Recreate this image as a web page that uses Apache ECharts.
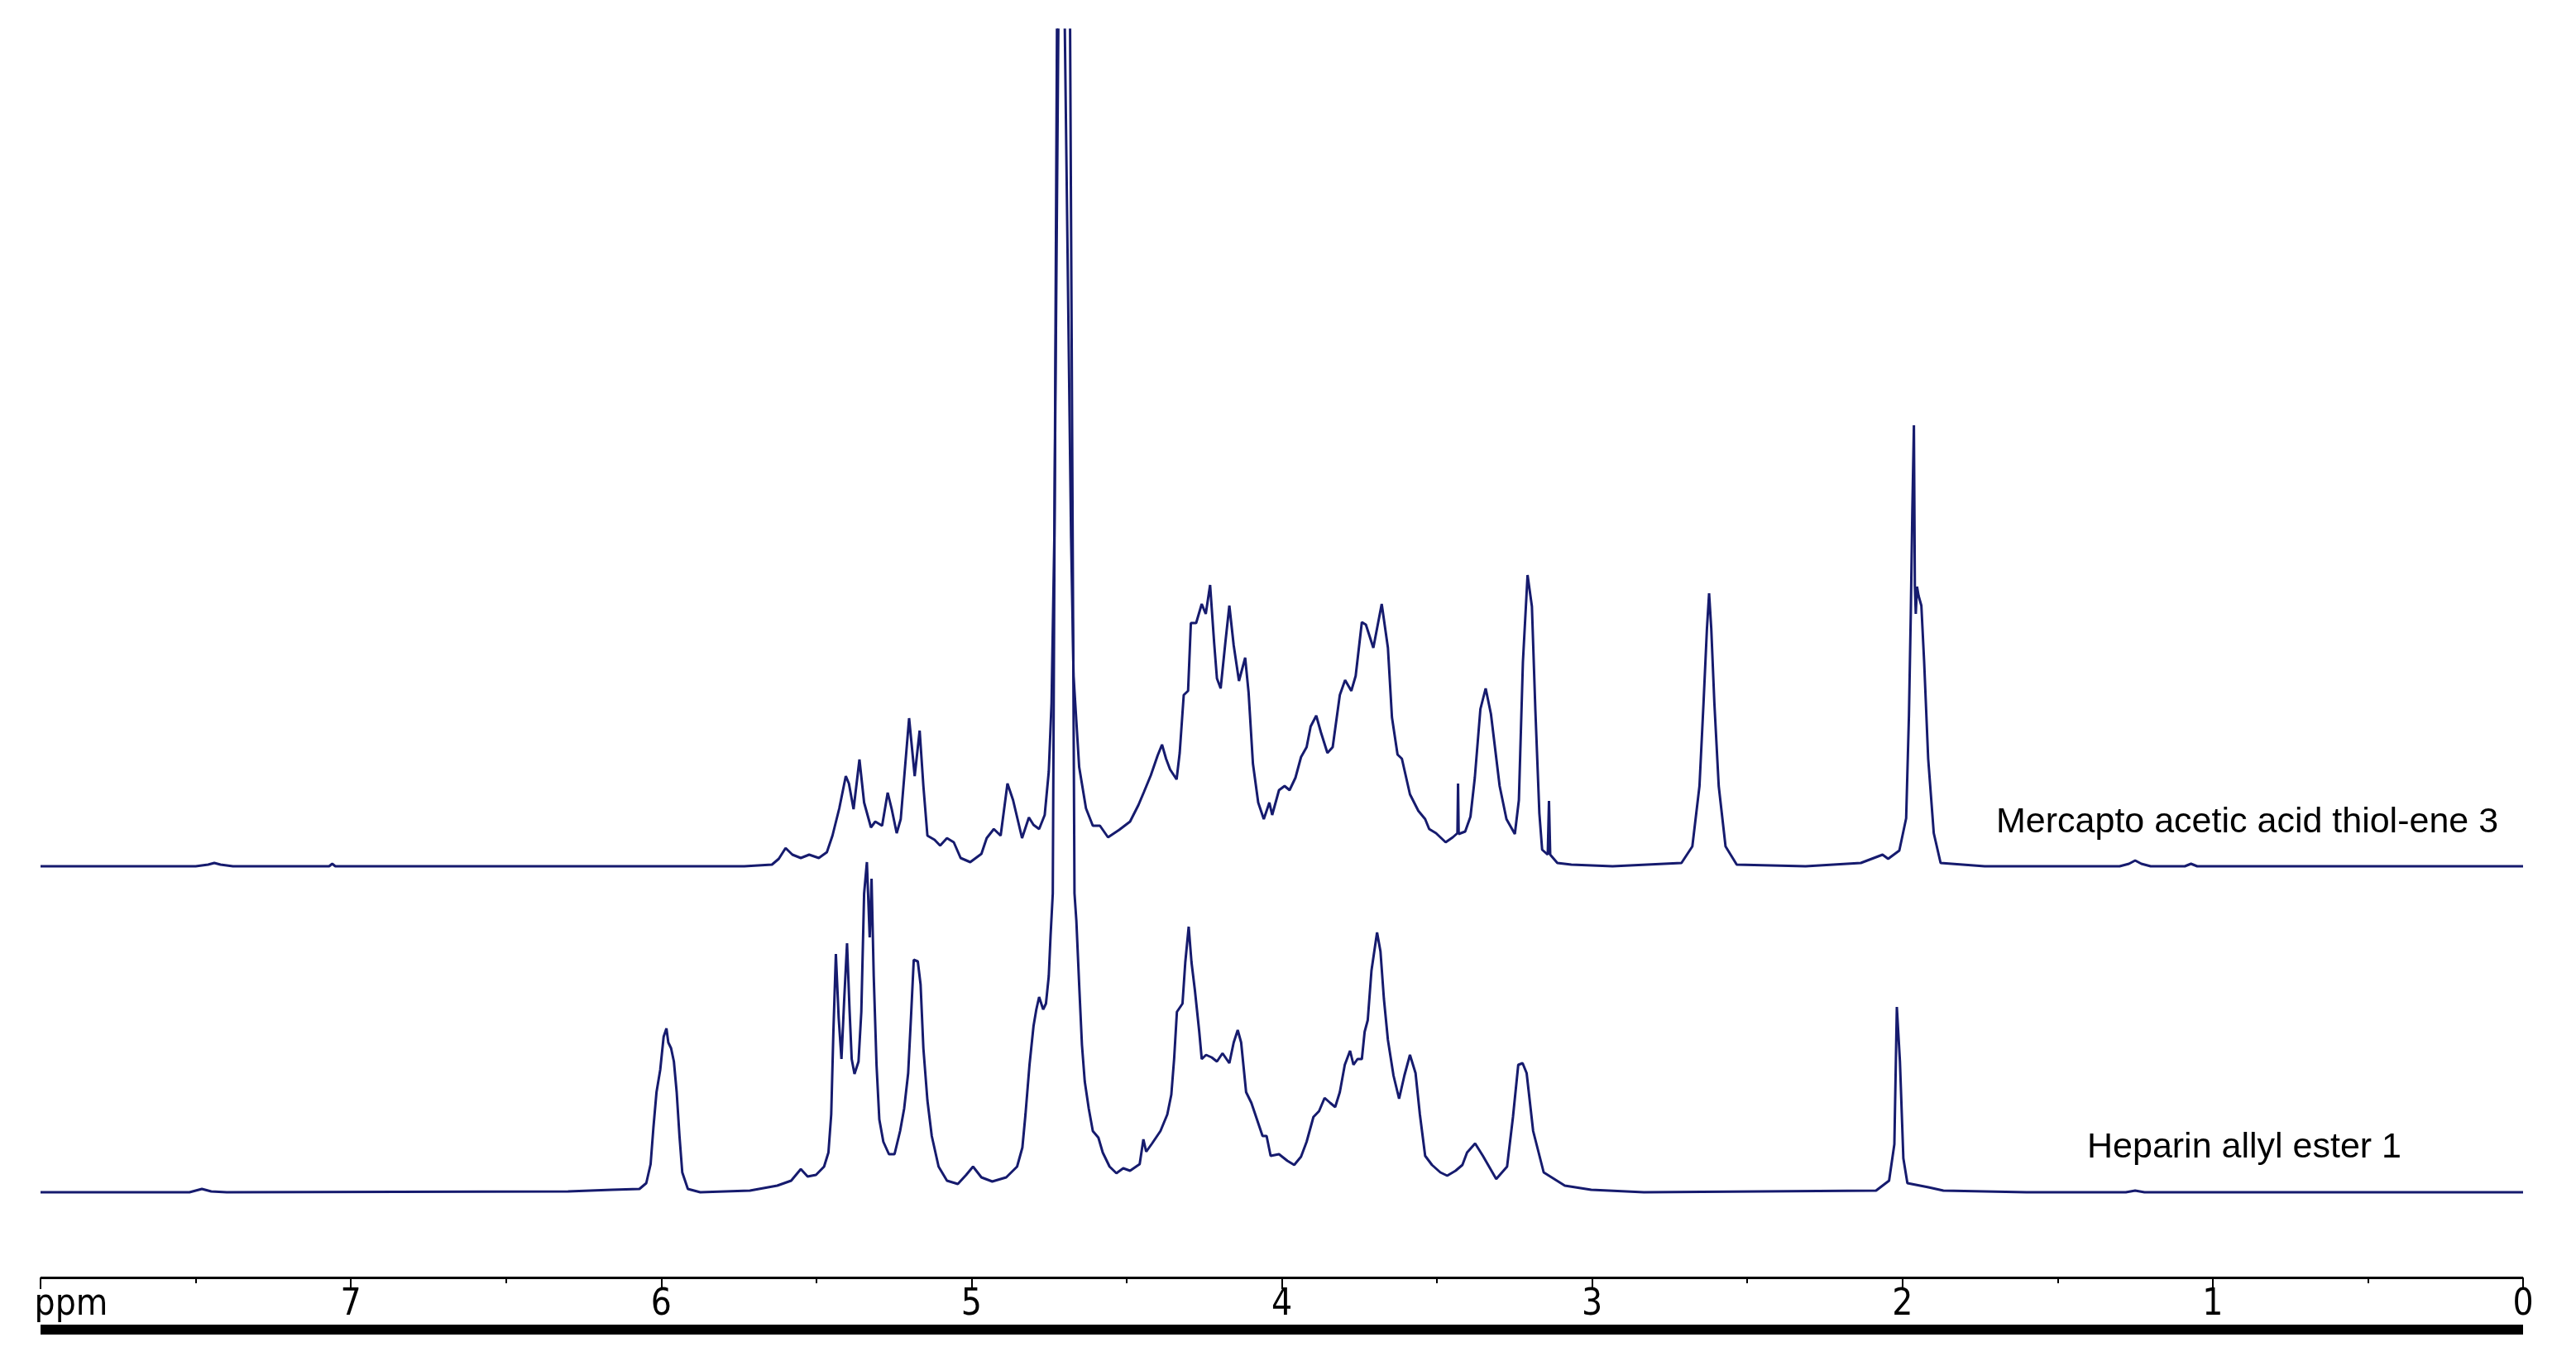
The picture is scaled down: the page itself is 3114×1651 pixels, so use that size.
<!DOCTYPE html>
<html>
<head>
<meta charset="utf-8">
<script src="https://cdn.jsdelivr.net/npm/echarts@6/dist/echarts.min.js"></script>
<style>
html,body{margin:0;padding:0;background:#fff;}
#c{width:3114px;height:1651px;}
</style>
</head>
<body>
<div id="c"></div>
<script>
// ---- DATA (chemical shift in ppm, intensity in arbitrary units) ----
var upperName = 'Mercapto acetic acid thiol-ene 3';
var lowerName = 'Heparin allyl ester 1';

var upperPpm = [8.00,7.50,7.46,7.44,7.42,7.38,7.07,7.06,7.05,5.732,5.643,5.621,5.599,5.577,5.550,5.523,5.492,5.466,5.448,5.426,5.405,5.395,5.380,5.361,5.346,5.324,5.310,5.288,5.270,5.257,5.241,5.228,5.201,5.183,5.167,5.155,5.142,5.119,5.101,5.079,5.057,5.035,5.004,4.968,4.951,4.928,4.906,4.884,4.866,4.837,4.815,4.800,4.782,4.764,4.751,4.742,4.733,4.712,4.679,4.671,4.653,4.631,4.609,4.586,4.560,4.524,4.489,4.462,4.444,4.422,4.400,4.386,4.373,4.360,4.339,4.329,4.316,4.302,4.293,4.276,4.258,4.245,4.231,4.218,4.209,4.197,4.182,4.169,4.155,4.138,4.118,4.107,4.093,4.076,4.058,4.040,4.031,4.009,3.991,3.975,3.956,3.938,3.920,3.907,3.889,3.874,3.853,3.836,3.813,3.796,3.776,3.762,3.742,3.729,3.705,3.678,3.658,3.645,3.627,3.613,3.587,3.560,3.538,3.525,3.503,3.472,3.449,3.434,3.432,3.430,3.409,3.392,3.378,3.360,3.343,3.326,3.298,3.276,3.249,3.236,3.223,3.208,3.194,3.183,3.170,3.161,3.143,3.139,3.135,3.112,3.067,2.934,2.712,2.677,2.654,2.641,2.630,2.623,2.616,2.606,2.592,2.570,2.534,2.312,2.134,2.064,2.046,2.010,1.988,1.979,1.973,1.968,1.963,1.960,1.957,1.953,1.948,1.939,1.930,1.917,1.899,1.877,1.735,1.30,1.27,1.25,1.23,1.20,1.09,1.07,1.05,0.00];
var upperInt = [0,0,2,4,2,0,0,3,0,0,2,9,22,14,10,14,10,17,37,70,109,100,69,129,77,47,54,49,89,69,40,57,179,109,164,97,37,32,25,34,29,10,5,15,34,45,37,100,80,34,59,50,45,62,114,197,397,1400,397,230,120,70,49,49,35,44,54,74,90,110,134,147,130,117,105,137,207,212,294,294,317,305,340,270,227,215,270,315,267,224,252,210,124,77,57,77,62,92,97,92,107,132,144,169,182,162,137,144,207,225,212,230,295,292,264,317,264,180,135,130,87,67,57,45,40,29,35,40,100,39,42,60,107,190,215,184,97,57,39,80,247,352,314,190,64,20,14,79,14,4,2,0,4,24,97,197,287,330,287,197,97,24,2,0,4,14,9,19,58,182,306,431,533,340,305,338,327,315,247,130,40,4,0,0,3,7,3,0,0,3,0,0];

var lowerPpm = [8.00,7.52,7.48,7.45,7.40,6.30,6.158,6.070,6.048,6.034,6.025,6.015,6.003,5.992,5.983,5.977,5.968,5.959,5.950,5.941,5.932,5.914,5.874,5.714,5.626,5.581,5.550,5.528,5.501,5.475,5.461,5.452,5.445,5.437,5.428,5.419,5.410,5.401,5.393,5.386,5.377,5.364,5.355,5.346,5.337,5.328,5.322,5.315,5.306,5.297,5.284,5.266,5.248,5.230,5.217,5.204,5.195,5.186,5.173,5.164,5.155,5.142,5.128,5.106,5.079,5.044,5.017,4.995,4.968,4.933,4.888,4.853,4.836,4.826,4.813,4.800,4.791,4.782,4.769,4.760,4.751,4.745,4.738,4.704,4.668,4.662,4.653,4.644,4.635,4.622,4.609,4.591,4.577,4.555,4.533,4.511,4.489,4.458,4.446,4.437,4.418,4.391,4.369,4.356,4.347,4.338,4.320,4.311,4.300,4.291,4.280,4.266,4.258,4.244,4.226,4.209,4.191,4.169,4.155,4.142,4.131,4.115,4.098,4.080,4.062,4.049,4.036,4.009,3.982,3.960,3.938,3.920,3.898,3.880,3.862,3.844,3.828,3.813,3.797,3.780,3.769,3.756,3.742,3.733,3.723,3.711,3.693,3.682,3.671,3.658,3.640,3.622,3.605,3.587,3.569,3.555,3.538,3.516,3.489,3.467,3.440,3.418,3.403,3.377,3.352,3.309,3.274,3.255,3.238,3.224,3.211,3.190,3.156,3.088,3.003,2.833,2.085,2.043,2.026,2.018,2.013,2.008,1.997,1.984,1.916,1.868,1.60,1.28,1.25,1.22,0.00];
var lowerInt = [0,0,4,1,0,1,3,4,11,34,78,121,148,188,198,181,174,158,121,68,24,4,0,2,8,14,28,19,21,31,48,94,194,288,211,161,234,301,221,161,143,158,218,361,399,308,379,261,154,88,61,46,46,74,101,144,211,281,279,251,174,111,68,31,14,10,21,31,18,13,18,31,54,94,154,201,221,236,221,228,261,311,361,3000,361,328,251,178,134,101,74,66,48,31,23,29,26,34,64,49,59,74,94,118,161,218,228,278,321,278,244,194,161,166,163,158,168,156,181,196,181,121,108,88,68,68,44,46,38,33,43,61,91,98,114,108,103,121,154,171,154,161,161,194,208,268,314,291,234,184,141,113,141,166,144,94,44,33,24,20,26,33,48,59,44,16,31,91,154,156,144,74,24,8,3,0,2,14,58,224,226,158,41,11,6,2,0,0,2,0,0];

var axisMin = 0, axisMax = 8, axisStep = 1;
var axisUnitLabel = 'ppm';

function zip(a, b) { var out = []; for (var i = 0; i < a.length; i++) out.push([a[i], b[i]]); return out; }

var AXFONT = "'DejaVu Sans Condensed', 'Liberation Sans', sans-serif";
var LBFONT = "'Liberation Sans', Arial, sans-serif";
var LINE = '#161b6e';

var chart = echarts.init(document.getElementById('c'), null, {renderer: 'canvas'});
chart.setOption({
  animation: false,
  backgroundColor: '#fff',
  title: [
    {text: upperName, left: 2408, top: 968, textStyle: {fontFamily: LBFONT, fontSize: 43, fontWeight: 'normal', color: '#000'}},
    {text: lowerName, left: 2518, top: 1361, textStyle: {fontFamily: LBFONT, fontSize: 43, fontWeight: 'normal', color: '#000'}}
  ],
  grid: [
    {left: 49, right: 64, top: 36, bottom: 107},
    {left: 49, right: 64, top: 36, bottom: 107}
  ],
  xAxis: [
    {
      type: 'value', gridIndex: 0, min: axisMin, max: axisMax, interval: axisStep, inverse: true,
      axisLine: {show: true, onZero: false, lineStyle: {color: '#000', width: 3, cap: 'butt'}},
      axisTick: {show: true, length: 14, lineStyle: {color: '#000', width: 2}},
      minorTick: {show: true, splitNumber: 2, length: 7, lineStyle: {color: '#000', width: 2}},
      splitLine: {show: false},
      axisLabel: {
        show: true, margin: 12, color: '#000', fontFamily: AXFONT, fontSize: 44,
        showMinLabel: true, showMaxLabel: true,
        formatter: function (v) { return v === axisMax ? '{p|' + axisUnitLabel + '}' : String(v); },
        rich: {p: {fontFamily: AXFONT, fontSize: 44, color: '#000', padding: [0, 0, 0, 74]}}
      }
    },
    {
      type: 'value', gridIndex: 0, min: axisMin, max: axisMax, inverse: true, position: 'bottom', offset: 63,
      axisLine: {show: true, onZero: false, lineStyle: {color: '#000', width: 12, cap: 'butt'}},
      axisTick: {show: false}, axisLabel: {show: false}, splitLine: {show: false}
    },
    {
      type: 'value', gridIndex: 1, min: axisMin, max: axisMax, inverse: true, show: false,
      splitLine: {show: false}
    }
  ],
  yAxis: [
    {type: 'value', gridIndex: 0, min: -103, max: 1405, show: false, splitLine: {show: false}},
    {type: 'value', gridIndex: 1, min: -497, max: 1011, show: false, splitLine: {show: false}}
  ],
  series: [
    {
      name: lowerName, type: 'line', xAxisIndex: 0, yAxisIndex: 0, data: zip(lowerPpm, lowerInt),
      showSymbol: false, symbol: 'none', clip: true, lineStyle: {color: LINE, width: 3}
    },
    {
      name: upperName, type: 'line', xAxisIndex: 2, yAxisIndex: 1, data: zip(upperPpm, upperInt),
      showSymbol: false, symbol: 'none', clip: true, lineStyle: {color: LINE, width: 3}
    }
  ]
});
</script>
</body>
</html>
